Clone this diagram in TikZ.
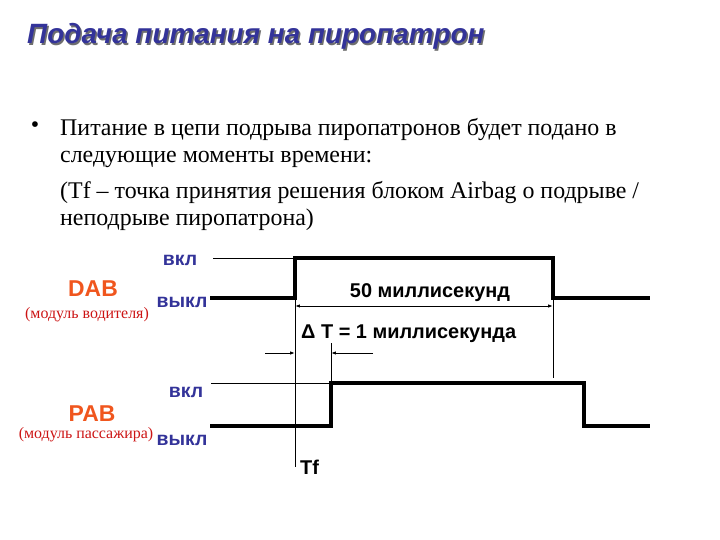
\documentclass[tikz,border=0pt]{standalone}
\usepackage{fontspec}
\setmainfont{Liberation Serif}
\setsansfont{Liberation Sans}
\usetikzlibrary{arrows.meta, positioning, calc}
\definecolor{slidenavy}{HTML}{333399}
\definecolor{shadowgray}{HTML}{6E6E6E}
\definecolor{moduleorange}{HTML}{F0561E}
\definecolor{modulered}{HTML}{CC1414}

\begin{document}
\begin{tikzpicture}[font=\sffamily, >={Latex[length=5pt,width=3.5pt]}, x=1bp, y=-1bp]
  % Styles
  \tikzstyle{levellabel} = [inner sep=0pt, text=slidenavy, font=\sffamily\bfseries\fontsize{19.5}{22}\selectfont]
  \tikzstyle{modname} = [inner sep=0pt, text=moduleorange, font=\sffamily\bfseries\fontsize{23}{26}\selectfont]
  \tikzstyle{modnote} = [inner sep=0pt, text=modulered, font=\rmfamily\fontsize{16}{18}\selectfont]
  \tikzstyle{bodyline} = [inner sep=0pt, anchor=base west, font=\rmfamily\fontsize{24}{28}\selectfont]
  \tikzstyle{dimtext} = [inner sep=0pt, font=\sffamily\bfseries\fontsize{20}{22}\selectfont]
  \tikzstyle{signal} = [line width=4pt, line join=miter]
  \tikzstyle{thinline} = [line width=1pt]

  \useasboundingbox (0,0) rectangle (720,540);

  % Title with shadow
  \node[inner sep=0pt, anchor=base west, text=shadowgray, font=\sffamily\bfseries\itshape\fontsize{28}{32}\selectfont] (titleshadow) at (28.5,45.5) {Подача питания на пиропатрон};
  \node[inner sep=0pt, anchor=base west, text=slidenavy, font=\sffamily\bfseries\itshape\fontsize{28}{32}\selectfont] (title) at (27,44) {Подача питания на пиропатрон};

  % Bullet text
  \node[inner sep=0pt, font=\rmfamily\fontsize{24}{28}\selectfont] (bullet) at (35,127) {•};
  \node[bodyline] (line1) at (60,136) {Питание в цепи подрыва пиропатронов будет подано в};
  \node[bodyline] (line2) at (60,163) {следующие моменты времени:};
  \node[bodyline] (line3) at (60,199) {(Tf – точка принятия решения блоком Airbag о подрыве /};
  \node[bodyline] (line4) at (60,226) {неподрыве пиропатрона)};

  % Signal corners
  \coordinate (dabstart) at (210,298);
  \coordinate (dabrise) at (295,298);
  \coordinate (dabtop) at (295,258);
  \coordinate (dabfalltop) at (553,258);
  \coordinate (dabfall) at (553,298);
  \coordinate (dabend) at (650,298);
  \coordinate (pabstart) at (210,426);
  \coordinate (pabrise) at (331,426);
  \coordinate (pabtop) at (331,383);
  \coordinate (pabfalltop) at (584,383);
  \coordinate (pabfall) at (584,426);
  \coordinate (pabend) at (650,426);

  % DAB waveform
  \draw[thinline] (213,258) -- (dabtop);
  \draw[signal] (dabstart) -- (dabrise) -- (dabtop) -- (dabfalltop) -- (dabfall) -- (dabend);

  % PAB waveform
  \draw[thinline] (211,383) -- (pabtop);
  \draw[signal] (pabstart) -- (pabrise) -- (pabtop) -- (pabfalltop) -- (pabfall) -- (pabend);

  % Level and module labels
  \node[levellabel] (dabon) at (180,260) {вкл};
  \node[levellabel] (daboff) at (182,302) {выкл};
  \node[levellabel] (pabon) at (186,392) {вкл};
  \node[levellabel] (paboff) at (182,440) {выкл};
  \node[modname] (dab) at (93,289) {DAB};
  \node[modnote] (dabnote) at (87,315) {(модуль водителя)};
  \node[modname] (pab) at (92,414) {PAB};
  \node[modnote] (pabnote) at (86,435) {(модуль пассажира)};

  % Guide lines
  \coordinate (tfbottom) at (295,467);
  \coordinate (fallbottom) at (553,378);
  \coordinate (dtop) at (331,343);
  \draw[thinline] (dabrise) -- (tfbottom);
  \draw[thinline] (dabfall) -- (fallbottom);
  \draw[thinline] (dtop) -- (pabtop);

  % 50 ms dimension
  \coordinate (fiftyleft) at (295,306);
  \coordinate (fiftyright) at (553,306);
  \draw[thinline, <->] (fiftyleft) -- (fiftyright);
  \node[dimtext] (fifty) at (430,293) {50 миллисекунд};

  % Delta T dimension
  \coordinate (dleftout) at (265,353);
  \coordinate (dleftin) at (295,353);
  \coordinate (drightin) at (331,353);
  \coordinate (drightout) at (373,353);
  \draw[thinline, ->] (dleftout) -- (dleftin);
  \draw[thinline, ->] (drightout) -- (drightin);
  \node[dimtext, anchor=west] (delta) at (301,334) {Δ T = 1 миллисекунда};
  \node[dimtext, anchor=west] (tf) at (300,467) {Tf};

\end{tikzpicture}
\end{document}
